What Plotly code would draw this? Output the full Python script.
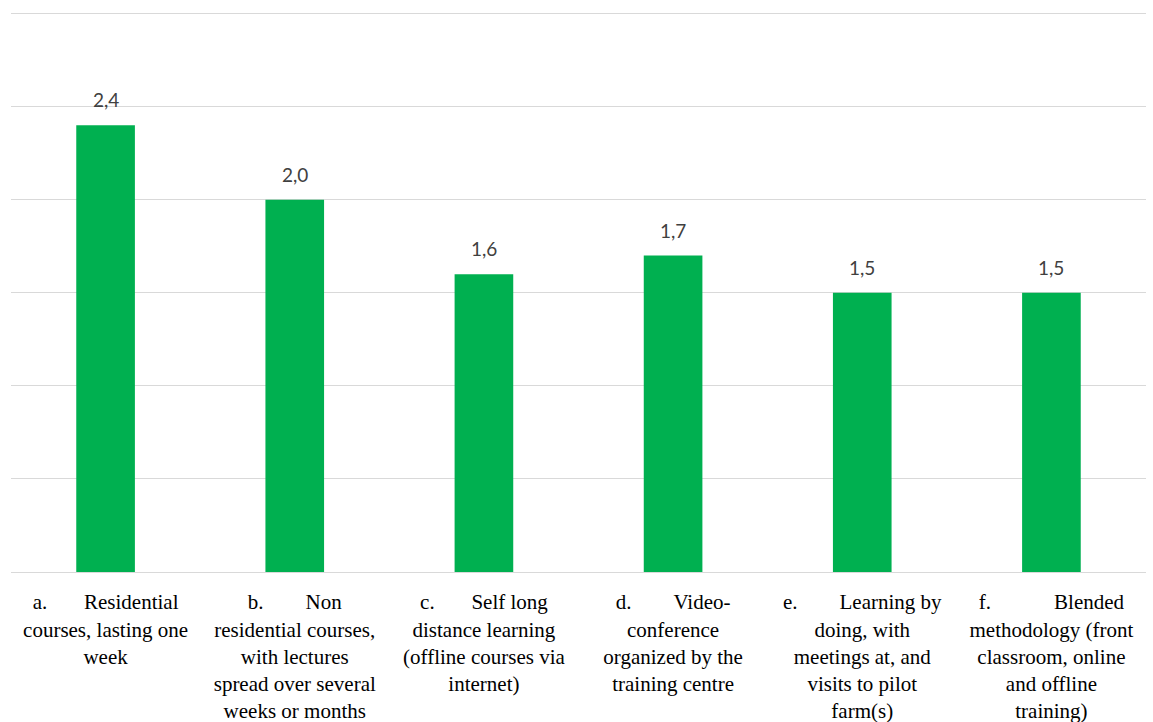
import plotly.graph_objects as go

NB = "\u00a0"
categories = ["a", "b", "c", "d", "e", "f"]
tick_labels = [
    f"a.{NB*7}Residential<br>courses, lasting one<br>week",
    f"b.{NB*8}Non<br>residential courses,<br>with lectures<br>spread over several<br>weeks or months",
    f"c.{NB*7}Self long<br>distance learning<br>(offline courses via<br>internet)",
    f"d.{NB*8}Video-<br>conference<br>organized by the<br>training centre",
    f"e.{NB*8}Learning by<br>doing, with<br>meetings at, and<br>visits to pilot<br>farm(s)",
    f"f.{NB*12}Blended<br>methodology (front<br>classroom, online<br>and offline<br>training)",
]
values = [2.4, 2.0, 1.6, 1.7, 1.5, 1.5]
value_labels = [f"{v:.1f}".replace(".", ",") for v in values]

SERIF = "Liberation Serif, Times New Roman, serif"

fig = go.Figure(go.Bar(
    x=categories, y=values,
    marker=dict(color="#00B050", line=dict(width=0)),
))
for c, v, t in zip(categories, values, value_labels):
    fig.add_annotation(x=c, y=v, text=t, showarrow=False, yanchor="bottom", yshift=12,
                       font=dict(family="Lato", size=19, color="#404040"))
fig.update_layout(
    width=1153, height=722,
    margin=dict(l=11, r=7, t=8, b=150),
    paper_bgcolor="white", plot_bgcolor="white",
    font=dict(family=SERIF, size=21, color="black"),
    bargap=0.69,
    showlegend=False,
    xaxis=dict(tickmode="array", tickvals=categories, ticktext=tick_labels,
               tickfont=dict(family=SERIF, size=21, color="black"), automargin=False,
               showline=True, linecolor="#d9d9d9", linewidth=1, ticks="", ticklabelstandoff=11),
    yaxis=dict(range=[0, 3.03], tickvals=[0.5, 1.0, 1.5, 2.0, 2.5, 3.0], showticklabels=False, showgrid=True,
               gridcolor="#d9d9d9", gridwidth=1, zeroline=False, automargin=False),
)
fig.write_html("out.html")
